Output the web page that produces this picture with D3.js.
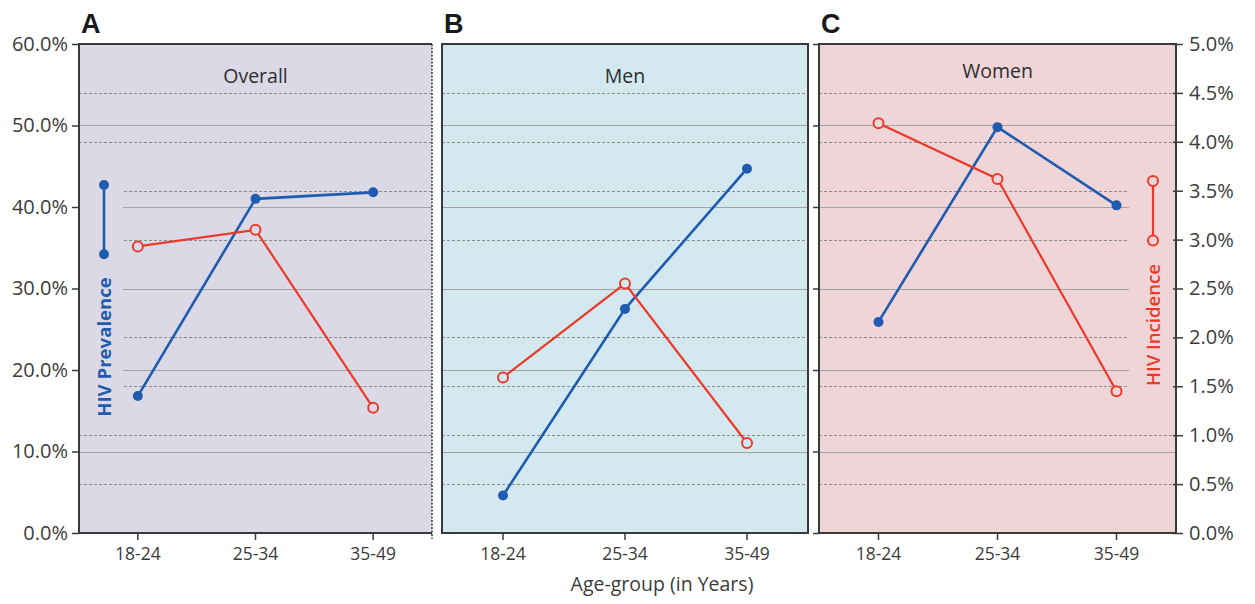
<!DOCTYPE html>
<html>
<head>
<meta charset="utf-8">
<script src="https://cdn.jsdelivr.net/npm/d3@7"></script>
<style>
  html, body { margin: 0; padding: 0; background: #ffffff; }
  svg { display: block; }
  text { font-family: "Open Sans", "Noto Sans", sans-serif; }
</style>
</head>
<body>
<svg id="chart" width="1255" height="604"></svg>
<script>
// ---------- data ----------
const ageGroups = ["18-24", "25-34", "35-49"];
const panelTitles = ["Overall", "Men", "Women"];
const panelLetters = ["A", "B", "C"];
// HIV prevalence (%), left axis
const prevalenceOverall = [16.8, 41.0, 41.8];
const prevalenceMen = [4.6, 27.5, 44.7];
const prevalenceWomen = [25.9, 49.8, 40.2];
// HIV incidence (%), right axis
const incidenceOverall = [2.93, 3.10, 1.28];
const incidenceMen = [1.59, 2.55, 0.92];
const incidenceWomen = [4.19, 3.62, 1.45];
// axis ticks
const leftTicks = [0, 10, 20, 30, 40, 50, 60];
const rightTicks = [0, 0.5, 1.0, 1.5, 2.0, 2.5, 3.0, 3.5, 4.0, 4.5, 5.0];
const xAxisTitle = "Age-group (in Years)";
const prevalenceLabel = "HIV Prevalence";
const incidenceLabel = "HIV Incidence";

const prevalence = [prevalenceOverall, prevalenceMen, prevalenceWomen];
const incidence = [incidenceOverall, incidenceMen, incidenceWomen];

// ---------- layout ----------
const plotTop = 44, plotBottom = 533;
const panelX = [[79, 432], [442, 808], [819, 1176]];
const panelBg = ["#dcd9e6", "#d3e8ef", "#efd4d8"];
const blue = "#1f5cb0", red = "#ec3a2a";
const axisColor = "#3a3a3a", textColor = "#3c3c3c";

const svg = d3.select("#chart");
const yL = d3.scaleLinear().domain([0, 60]).range([plotBottom, plotTop]);
const yR = d3.scaleLinear().domain([0, 5]).range([plotBottom, plotTop]);

panelTitles.forEach((title, i) => {
  const [x0, x1] = panelX[i];
  const g = svg.append("g");
  const x = d3.scaleBand().domain(ageGroups).range([x0, x1]);
  const cx = d => x(d) + x.bandwidth() / 2;

  g.append("rect").attr("x", x0).attr("y", plotTop).attr("width", x1 - x0).attr("height", plotBottom - plotTop)
    .attr("fill", panelBg[i]);

  // gridlines (dashed = right axis ticks, solid = left axis ticks)
  g.selectAll(".gd").data(rightTicks.filter(t => t > 0 && t < 5)).join("line")
    .attr("x1", x0).attr("x2", x1).attr("y1", d => Math.round(yR(d)) + 0.5).attr("y2", d => Math.round(yR(d)) + 0.5)
    .attr("stroke", "#8c8c8c").attr("stroke-width", 1).attr("stroke-dasharray", "3,2");
  g.selectAll(".gs").data(leftTicks.filter(t => t > 0 && t < 60)).join("line")
    .attr("x1", x0).attr("x2", x1).attr("y1", d => Math.round(yL(d)) + 0.5).attr("y2", d => Math.round(yL(d)) + 0.5)
    .attr("stroke", "#a3a3a3").attr("stroke-width", 1);

  // legend background covers
  if (i === 0) {
    g.append("rect").attr("x", x0 + 1).attr("y", 168).attr("width", 43).attr("height", 258).attr("fill", panelBg[i]);
  }
  if (i === 2) {
    g.append("rect").attr("x", 1129).attr("y", 168).attr("width", x1 - 1130).attr("height", 232).attr("fill", panelBg[i]);
  }

  // borders
  if (i === 0) {
    g.append("path").attr("d", `M${x1},${plotTop}H${x0}V${plotBottom}H${x1}`)
      .attr("fill", "none").attr("stroke", axisColor).attr("stroke-width", 2);
    g.append("line").attr("x1", x1).attr("x2", x1).attr("y1", plotTop).attr("y2", plotBottom + 6)
      .attr("stroke", axisColor).attr("stroke-width", 1.5).attr("stroke-dasharray", "2,1.5");
  } else {
    g.append("rect").attr("x", x0).attr("y", plotTop).attr("width", x1 - x0).attr("height", plotBottom - plotTop)
      .attr("fill", "none").attr("stroke", axisColor).attr("stroke-width", 2);
  }

  // x axis ticks and labels
  const xAxis = d3.axisBottom(x).tickSize(7).tickPadding(8);
  const xg = g.append("g").attr("transform", `translate(0,${plotBottom})`).call(xAxis);
  xg.select(".domain").remove();
  xg.selectAll("line").attr("stroke", axisColor).attr("stroke-width", 1.5);
  xg.selectAll("text").attr("fill", textColor).attr("font-size", 17.5);

  // panel letter and title
  g.append("text").attr("x", x0 + 2).attr("y", 33).text(panelLetters[i])
    .attr("font-weight", "bold").attr("font-size", 27).attr("fill", "#1a1a1a")
    .style("font-family", "'Liberation Sans', Arial, sans-serif");
  g.append("text").attr("x", (x0 + x1) / 2).attr("y", i === 2 ? 78 : 83).attr("text-anchor", "middle")
    .attr("font-size", 19.5).attr("fill", "#2e2e2e").text(title);

  // series lines
  const linePrev = d3.line().x((d, j) => cx(ageGroups[j])).y(d => yL(d));
  const lineInc = d3.line().x((d, j) => cx(ageGroups[j])).y(d => yR(d));
  g.append("path").attr("d", linePrev(prevalence[i])).attr("fill", "none")
    .attr("stroke", blue).attr("stroke-width", 2.6);
  g.append("path").attr("d", lineInc(incidence[i])).attr("fill", "none")
    .attr("stroke", red).attr("stroke-width", 2.2);
  g.selectAll(".pd").data(prevalence[i]).join("circle")
    .attr("cx", (d, j) => cx(ageGroups[j])).attr("cy", d => yL(d)).attr("r", 5).attr("fill", blue);
  g.selectAll(".id").data(incidence[i]).join("circle")
    .attr("cx", (d, j) => cx(ageGroups[j])).attr("cy", d => yR(d)).attr("r", 5)
    .attr("fill", panelBg[i]).attr("stroke", red).attr("stroke-width", 2);
});

// left axis
const lAxis = d3.axisLeft(yL).tickValues(leftTicks).tickSize(7).tickPadding(4).tickFormat(d => d.toFixed(1) + "%");
const lg = svg.append("g").attr("transform", `translate(${panelX[0][0]},0)`).call(lAxis);
lg.select(".domain").remove();
lg.selectAll("line").attr("stroke", axisColor).attr("stroke-width", 1.5);
lg.selectAll("text").attr("fill", textColor).attr("font-size", 20);

// small ticks on the left edge of panel C
const mg = svg.append("g").attr("transform", `translate(${panelX[2][0]},0)`)
  .call(d3.axisLeft(yL).tickValues(leftTicks).tickSize(6).tickFormat(""));
mg.select(".domain").remove();
mg.selectAll("line").attr("stroke", axisColor).attr("stroke-width", 1.5);

// right axis
const rAxis = d3.axisRight(yR).tickValues(rightTicks).tickSize(7).tickPadding(6).tickFormat(d => d.toFixed(1) + "%");
const rg = svg.append("g").attr("transform", `translate(${panelX[2][1]},0)`).call(rAxis);
rg.select(".domain").remove();
rg.selectAll("line").attr("stroke", axisColor).attr("stroke-width", 1.5).attr("x1", -3);
rg.selectAll("text").attr("fill", textColor).attr("font-size", 20);

// x axis title
svg.append("text").attr("x", 662).attr("y", 591).attr("text-anchor", "middle")
  .attr("font-size", 19.5).attr("fill", textColor).text(xAxisTitle);

// legend: prevalence (panel A)
const lgA = svg.append("g");
const prevKey = [42.7, 34.2];
lgA.append("line").attr("x1", 104).attr("x2", 104).attr("y1", yL(prevKey[0])).attr("y2", yL(prevKey[1]))
  .attr("stroke", blue).attr("stroke-width", 2.6);
lgA.selectAll("circle").data(prevKey).join("circle").attr("cx", 104).attr("cy", d => yL(d)).attr("r", 5).attr("fill", blue);
lgA.append("text").attr("transform", "translate(110.5,347) rotate(-90)").attr("text-anchor", "middle")
  .attr("font-size", 18.6).attr("font-weight", "bold").attr("fill", blue).text(prevalenceLabel);

// legend: incidence (panel C)
const lgC = svg.append("g");
const incKey = [3.6, 2.99];
lgC.append("line").attr("x1", 1153).attr("x2", 1153).attr("y1", yR(incKey[0])).attr("y2", yR(incKey[1]))
  .attr("stroke", red).attr("stroke-width", 2.2);
lgC.selectAll("circle").data(incKey).join("circle").attr("cx", 1153).attr("cy", d => yR(d)).attr("r", 5)
  .attr("fill", panelBg[2]).attr("stroke", red).attr("stroke-width", 2);
lgC.append("text").attr("transform", "translate(1159.5,325) rotate(-90)").attr("text-anchor", "middle")
  .attr("font-size", 18.6).attr("font-weight", 600).attr("fill", red).text(incidenceLabel);
</script>
</body>
</html>
